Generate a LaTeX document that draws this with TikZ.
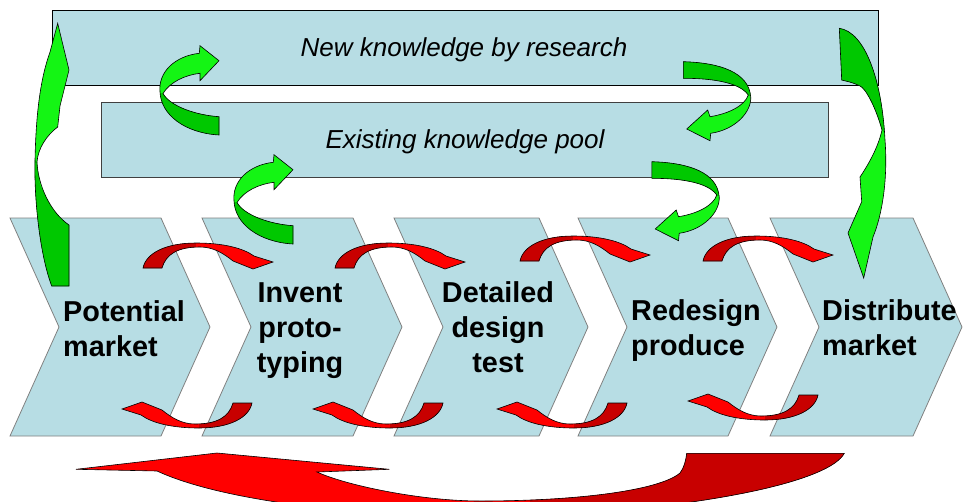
\documentclass[tikz,border=0pt]{standalone}
\usepackage{fontspec}
\setmainfont{Liberation Sans}
\definecolor{paleblue}{RGB}{183,221,228}
\definecolor{brightgreen}{RGB}{20,245,20}
\definecolor{deepgreen}{RGB}{0,200,0}
\definecolor{brightred}{RGB}{255,0,0}
\definecolor{deepred}{RGB}{200,0,0}

\begin{document}
\begin{tikzpicture}[x=1pt, y=-1pt,
  kbox/.style = {draw, fill=paleblue, line width=0.8pt},
  stage/.style = {draw=gray, fill=paleblue, line width=0.8pt},
  garrow/.style = {draw, fill=brightgreen, line width=0.6pt},
  rarrow/.style = {draw, fill=brightred, line width=0.6pt},
  stagelbl/.style = {font=\fontsize{28.8}{35}\selectfont\bfseries, inner sep=0pt},
  poollbl/.style = {font=\fontsize{26}{30}\selectfont\itshape, inner sep=0pt},
  uleft/.pic = {
    \path[garrow, path picture={\fill[deepgreen] (-20,1) rectangle (80,60);}]
      (59,24.7) .. controls (35,23) and (10,14) .. (3,1.5)
      .. controls (10,-10) and (25,-17) .. (40,-18.7)
      -- (40,-11.3) -- (59,-31.3) -- (40,-46.3) -- (39.3,-38.7)
      .. controls (15,-36) and (-2,-20) .. (0,0)
      .. controls (1,23) and (25,41) .. (59,43) -- cycle;
  },
  uright/.pic = {
    \path[garrow, path picture={\fill[deepgreen] (-80,-50) rectangle (10,-1);}]
      (-67.4,-35) .. controls (-30,-34) and (-2,-24) .. (0,0)
      .. controls (1,15) and (-15,33) .. (-40,36.6)
      -- (-40.7,44) -- (-64,32.3) -- (-43,13.3) -- (-40.7,20)
      .. controls (-22,17) and (-6,9) .. (-2.4,-1.7)
      .. controls (-8,-10) and (-25,-18.4) .. (-67.4,-18.4) -- cycle;
  },
  redturn/.pic = {
    \path[rarrow, path picture={\fill[deepred] (-80,-30) rectangle (-12,30);}]
      (-65,12) .. controls (-62,-3) and (-42,-13) .. (-12,-13)
      .. controls (15,-13) and (35,-8) .. (46,0)
      -- (65,6) -- (45,13) -- (25,5)
      .. controls (15,-3) and (5,-9) .. (-8,-9)
      .. controls (-30,-9) and (-42,-2) .. (-46,12) -- cycle;
  }]
\useasboundingbox (0,0) rectangle (963,501);

% knowledge boxes
\draw[kbox] (52,10) rectangle (878,85);
\draw[kbox, draw=darkgray] (101,102) rectangle (828,177);

% process chevrons
\foreach \xl/\xr in {10/161, 202/353, 394/539, 578/728, 770/913}
  \draw[stage] (\xl,218) -- (\xr,218) -- ({\xr+49},327) -- (\xr,436)
    -- (\xl,436) -- ({\xl+49},327) -- cycle;

% red turns between the stages
\foreach \x/\y in {208/256, 400/256, 585/249, 768/249}
  \pic at (\x,\y) {redturn};
\foreach \x/\y in {187/415, 378/415, 562/415, 753/407}
  \pic[rotate=180] at (\x,\y) {redturn};

% green knowledge flows
\pic at (160,92) {uleft};
\pic at (234,201) {uleft};
\pic at (750.7,96.7) {uright};
\pic at (719.2,196.7) {uright};

\path[garrow, path picture={\fill[deepgreen] (30,155) -- (37,162) -- (40,185) -- (53,210)
    -- (69,225) -- (75,225) -- (75,295) -- (30,295) -- cycle;}]
  (51.7,286) .. controls (40,255) and (34,200) .. (35,160)
  .. controls (36,115) and (40,80) .. (50,52) -- (57.7,23.3) -- (69,70)
  -- (60,106) -- (57.7,127) .. controls (47,135) and (38,148) .. (37,162)
  .. controls (38,185) and (50,212) .. (69,225) -- (69,286) -- cycle;

\path[garrow, path picture={\fill[deepgreen] (830,20) -- (830,80) -- (841.7,80) -- (860,86.5)
    -- (872,105) -- (882,130) -- (895,145) -- (895,20) -- cycle;}]
  (839.3,28.3) .. controls (865,32) and (882,80) .. (885,140)
  .. controls (888,180) and (882,215) .. (873,237) -- (863.7,278) -- (848,233)
  -- (861.7,201.7) -- (860,177) .. controls (868,165) and (878,148) .. (882,130)
  .. controls (875,105) and (865,88) .. (860,86)
  .. controls (852,82) and (845,81) .. (841.7,80) -- cycle;

% big return to the market
\begin{scope}
  \clip (0,0) rectangle (963,501);
  \path[rarrow, path picture={\fill[deepred] (530,440) rectangle (900,530);}]
    (76,469.3) -- (217,453) -- (389.3,469.3) -- (317,472)
    .. controls (345,485) and (420,501) .. (480,501)
    .. controls (580,501) and (660,490) .. (680,473)
    .. controls (684,468) and (686,460) .. (686.7,453.3) -- (844.3,453.3)
    .. controls (830,480) and (720,505) .. (560,515)
    .. controls (400,522) and (230,505) .. (157,471) -- cycle;
\end{scope}

% labels (base = last line)
\node[poollbl, anchor=base] (research) at (464,56.5) {New knowledge by research};
\node[poollbl, anchor=base] (existing) at (465,148) {Existing knowledge pool};
\node[stagelbl, align=left, anchor=base west] (potential) at (63,356) {Potential\\market};
\node[stagelbl, align=center, anchor=base] (invent) at (300,372) {Invent\\proto-\\typing};
\node[stagelbl, align=center, anchor=base] (detailed) at (498,372) {Detailed\\design\\test};
\node[stagelbl, align=left, anchor=base west] (redesign) at (631,355) {Redesign\\produce};
\node[stagelbl, align=left, anchor=base west] (distribute) at (822,355) {Distribute\\market};
\end{tikzpicture}
\end{document}
